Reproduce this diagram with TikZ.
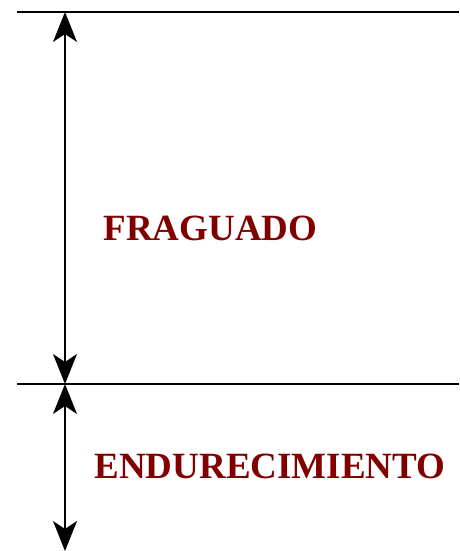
\documentclass[tikz,border=0pt]{standalone}
\usepackage{fontspec}
\setmainfont{Liberation Serif}
\usepackage{tikz}
\usetikzlibrary{arrows.meta,positioning}
\definecolor{stageink}{HTML}{800000}
\tikzset{
  limit/.style ={line width=2.8pt,draw=black},
  span/.style  ={{Stealth[length=30pt,width=24pt,inset=8pt]}-{Stealth[length=30pt,width=24pt,inset=8pt]},
                 line width=1.8pt,draw=black},
  stage/.style ={text=stageink,font=\fontsize{37}{44}\selectfont\bfseries,inner sep=0pt}
}
\begin{document}
\begin{tikzpicture}[x=1pt,y=1pt]
    \useasboundingbox (0,0) rectangle (459,-551);
    \coordinate (tl) at (17,-12);  \coordinate (tr) at (459,-12);
    \coordinate (ml) at (17,-384); \coordinate (mr) at (459,-384);
    \coordinate (top) at (65,-12);
    \coordinate (mid) at (65,-384);
    \coordinate (bot) at (65,-551);
    \draw[limit] (tl)--(tr);
    \draw[limit] (ml)--(mr);
    \draw[span] (top)--(mid);
    \draw[span] (mid)--(bot);
    \node[stage] (frag) at (210.5,-228.5) {FRAGUADO};
    \node[stage] (endu) at (270,-466) {ENDURECIMIENTO};
  \end{tikzpicture}
\end{document}
